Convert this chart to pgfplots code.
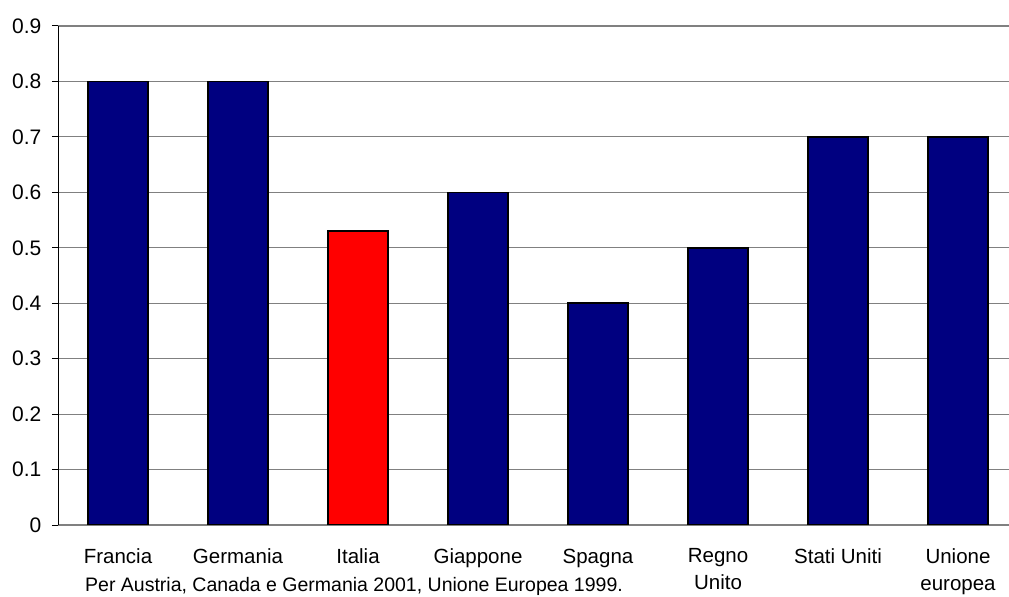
\documentclass[border=0pt]{standalone}
\usepackage{fontspec}
\setmainfont{Liberation Sans}
\usepackage{pgfplots}
\pgfplotsset{compat=1.18}
\definecolor{barblue}{RGB}{0,0,128}
\definecolor{gridgray}{RGB}{128,128,128}
\begin{document}
\fontsize{19.5bp}{23bp}\selectfont
\begin{tikzpicture}
\useasboundingbox (0,0) rectangle (1009bp,597bp);
\clip (0,0) rectangle (1009bp,597bp);
\begin{axis}[
  at={(58bp,72bp)}, anchor=south west,
  scale only axis, width=951bp, height=499bp,
  xmin=-0.5, xmax=7.425, ymin=0, ymax=0.9,
  axis x line*=bottom, axis y line*=left,
  x axis line style={-, gridgray, line width=1.5bp},
  y axis line style={-, black, line width=1bp},
  ytick={0,0.1,...,0.9},
  yticklabels={0,0.1,0.2,0.3,0.4,0.5,0.6,0.7,0.8,0.9},
  ymajorgrids, grid style={gridgray, line width=1.2bp},
  tick align=outside, major tick length=6bp,
  tick style={black, line width=1bp},
  xtick={0,...,7},
  xticklabels={Francia,Germania,Italia,Giappone,Spagna,{Regno\\Unito},Stati Uniti,{Unione\\europea}},
  xticklabel style={align=center, font=\fontsize{20.5bp}{27bp}\selectfont, yshift=-11bp},
  yticklabel style={font=\fontsize{21bp}{24bp}\selectfont, xshift=-4bp},
  x tick style={draw=none},
  extra x ticks={-0.5,0.5,1.5,2.5,3.5,4.5,5.5,6.5},
  extra x tick labels={},
  extra x tick style={grid=none, tick style={draw=black, line width=1bp}, major tick length=6bp},
  /pgf/number format/assume math mode=true,
  ybar, bar width=0.5, bar shift=0pt,
]
\addplot[fill=barblue, draw=black, line width=1.5bp] coordinates {
  (0,0.8) (1,0.8) (3,0.6) (4,0.4) (5,0.5) (6,0.7) (7,0.7)
};
\addplot[fill=red, draw=black, line width=1.5bp] coordinates {
  (2,0.53)
};
\end{axis}
\node[anchor=base west, inner sep=0pt] at (85bp,6bp) {Per Austria, Canada e Germania 2001, Unione Europea 1999.};
\end{tikzpicture}
\end{document}
